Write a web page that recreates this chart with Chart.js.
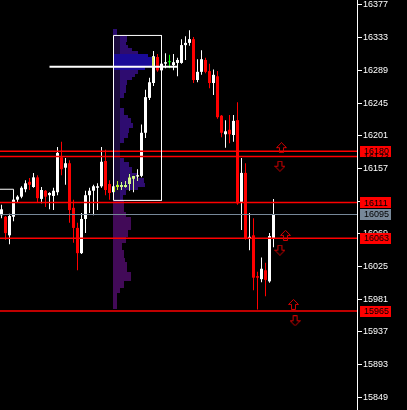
<!DOCTYPE html>
<html>
<head>
<meta charset="utf-8">
<script src="https://cdn.jsdelivr.net/npm/chart.js@4.4.0/dist/chart.umd.min.js"></script>
<style>
html,body{margin:0;padding:0;background:#000;overflow:hidden}
canvas{display:block}
</style>
</head>
<body>
<canvas id="c" width="407" height="410"></canvas>
<script>
// Candles, oldest first
const opens = [
  16094,16092,16067,16092,16115,16119,16129,16139,16132,16145,
  16116,16127,16121,16120,16125,16172,16158,16164,16104,16077,
  16043,16089,16121,16127,16131,16133,16167,16136,16125,16132,
  16132,16132,16136,16143,16146,16147,16205,16252,16272,16307,
  16289,16298,16300,16296,16299,16299,16323,16326,16331,16276,
  16287,16303,16288,16272,16281,16228,16203,16209,16202,16222,
  16112,16151,16063,16067,16012,16008,16020,16005,16063
];
const highs = [
  16108,16093,16096,16129,16121,16133,16141,16144,16151,16148,
  16132,16128,16125,16131,16186,16193,16171,16168,16115,16084,
  16097,16127,16131,16135,16137,16186,16182,16141,16141,16140,
  16139,16140,16150,16147,16156,16216,16263,16279,16315,16311,
  16300,16312,16310,16311,16306,16331,16335,16343,16334,16304,
  16316,16306,16298,16290,16288,16229,16222,16229,16229,16246,
  16171,16164,16097,16090,16018,16037,16030,16070,16116
];
const lows = [
  16090,16061,16055,16086,16112,16117,16125,16128,16131,16112,
  16110,16105,16102,16101,16121,16148,16135,16084,16057,16020,
  16042,16070,16097,16094,16101,16131,16121,16115,16115,16128,
  16128,16131,16127,16125,16140,16145,16198,16249,16268,16287,
  16287,16292,16292,16289,16281,16298,16303,16322,16272,16273,
  16283,16285,16265,16256,16224,16199,16185,16191,16193,16108,
  16074,16061,16047,15993,15967,16004,15985,16003,16051
];
const closes = [
  16102,16070,16093,16115,16119,16131,16137,16135,16145,16117,
  16128,16119,16124,16127,16178,16156,16164,16101,16077,16043,
  16089,16121,16127,16133,16133,16166,16128,16124,16133,16135,
  16135,16135,16145,16147,16148,16205,16253,16273,16308,16289,
  16298,16300,16300,16300,16303,16323,16326,16331,16276,16287,
  16304,16287,16272,16283,16226,16205,16207,16203,16221,16110,
  16151,16063,16065,16010,16010,16022,16007,16066,16095
];

// Price axis
const tickValues = [16377,16333,16289,16245,16201,16157,16113,16069,16025,15981,15937,15893,15849];
const priceMin = 15831.9;
const priceMax = 16383.7;

// Support / resistance levels
const levelPrices = [16180,16173,16111,16063,15965];
const lastPrice = closes[closes.length - 1];

// Session box (candle index range and price range) with its volume profile
const boxFrom = 28, boxTo = 40;
const boxHigh = 16336, boxLow = 16114;
const pocPrice = 16294, pocFrom = 12, pocTo = 44;
const prevPocPrice = 16129, prevPocFrom = -1, prevPocTo = 3;
const profileEdges = [16345,16337,16327,16323,16319,16315,16311,16307,16295,16290,16284,16280,16276,16269,16259,16252,16238,16229,16225,16218,16211,16205,16198,16191,16171,16166,16159,16151,16144,16137,16132,16128,16121,16113,16098,16092,16074,16065,16057,16047,16037,16031,16018,16006,15996,15989,15968];
const profileVolumes = [40,160,150,170,220,280,400,470,370,280,250,220,160,150,120,80,120,170,210,230,180,170,120,80,130,180,220,270,350,360,290,150,110,120,150,200,170,150,100,120,140,160,200,120,80,40];

// Breakout arrows
const arrowUpX = [70, 71, 73];
const arrowUpY = [16185, 16067, 15974];
const arrowDownX = [69.6, 69.6, 73.4];
const arrowDownY = [16160, 16047, 15952];

const FONT = '9px "Liberation Sans", Arial, sans-serif';
const X_MIN = -0.375, X_MAX = 88.875;

function candleColor(i) {
  if (closes[i] > opens[i]) return '#ffffff';
  if (closes[i] < opens[i]) return '#ff0000';
  return '#00ff00';
}
const candleColors = opens.map((o, i) => candleColor(i));

function arrowImage(up) {
  const cv = document.createElement('canvas');
  cv.width = 11; cv.height = 11;
  const g = cv.getContext('2d');
  g.strokeStyle = '#d00000';
  g.lineWidth = 1;
  const pts = [[5.5,0.5],[10.5,5.5],[7.5,5.5],[7.5,10.5],[3.5,10.5],[3.5,5.5],[0.5,5.5]];
  g.beginPath();
  pts.forEach(([x, y], i) => {
    const yy = up ? y : 11 - y;
    if (i) g.lineTo(x, yy); else g.moveTo(x, yy);
  });
  g.closePath();
  g.stroke();
  return cv;
}

function hLine(price, from, to, color, width, order) {
  return {
    type: 'line',
    data: [{x: from, y: price}, {x: to, y: price}],
    borderColor: color, borderWidth: width,
    pointRadius: 0, tension: 0, fill: false, order
  };
}

const datasets = [];
datasets.push({
  type: 'bar', label: 'wicks',
  data: opens.map((o, i) => ({x: i, y: [lows[i], highs[i]]})),
  backgroundColor: candleColors, barThickness: 1, grouped: false,
  inflateAmount: 0, borderWidth: 0, order: 20
});
const BODY_INDEX = datasets.length;
datasets.push({
  type: 'bar', label: 'bodies',
  data: opens.map((o, i) => ({x: i, y: [o, closes[i]]})),
  backgroundColor: candleColors, barThickness: 3, grouped: false,
  inflateAmount: 0, borderWidth: 0, minBarLength: 1, order: 19
});
levelPrices.forEach(p => datasets.push(hLine(p, X_MIN - 1, X_MAX + 1, '#ff0000', 1.5, 5)));
datasets.push(hLine(lastPrice, X_MIN - 1, X_MAX + 1, '#778899', 1.2, 5));
datasets.push({
  type: 'line',
  data: [{x: boxFrom, y: boxHigh}, {x: boxTo, y: boxHigh}, {x: boxTo, y: boxLow}, {x: boxFrom, y: boxLow}, {x: boxFrom, y: boxHigh}],
  borderColor: '#ffffff', borderWidth: 1, pointRadius: 0, tension: 0, fill: false, order: 4
});
datasets.push(hLine(pocPrice, pocFrom, pocTo, '#ffffff', 2, 3));
datasets.push(hLine(prevPocPrice, prevPocFrom, prevPocTo, '#ffffff', 1, 3));
datasets.push({
  type: 'line', showLine: false,
  data: arrowUpX.map((x, i) => ({x, y: arrowUpY[i]})),
  pointStyle: arrowImage(true), pointRadius: 6, order: 1
});
datasets.push({
  type: 'line', showLine: false,
  data: arrowDownX.map((x, i) => ({x, y: arrowDownY[i]})),
  pointStyle: arrowImage(false), pointRadius: 6, order: 1
});

const background = {
  id: 'background',
  beforeDraw(chart) {
    const ctx = chart.ctx;
    ctx.save();
    ctx.fillStyle = '#000';
    ctx.fillRect(0, 0, chart.width, chart.height);
    ctx.restore();
  }
};

// Volume profile, blended over the candles
const profile = {
  id: 'profile',
  afterDatasetDraw(chart, args) {
    if (args.index !== BODY_INDEX) return;
    const {ctx, chartArea: a, scales} = chart;
    const xs = scales.x, ys = scales.y, vs = scales.xv;
    const x0 = Math.round(xs.getPixelForValue(boxFrom) - 0.5);
    const maxVol = Math.max(...profileVolumes);
    ctx.save();
    ctx.beginPath();
    ctx.rect(a.left, a.top, a.right - a.left, a.bottom - a.top);
    ctx.clip();
    ctx.globalCompositeOperation = 'difference';
    for (let i = 0; i < profileVolumes.length; i++) {
      const top = Math.round(ys.getPixelForValue(profileEdges[i]));
      const bot = Math.round(ys.getPixelForValue(profileEdges[i + 1]));
      const w = Math.round(vs.getPixelForValue(profileVolumes[i]) - vs.getPixelForValue(0));
      const mid = (profileEdges[i] + profileEdges[i + 1]) / 2;
      const inBox = mid <= boxHigh && mid >= boxLow;
      let color;
      if (mid < boxLow) color = '#420a58';
      else if (!inBox) color = '#2a0c70';
      else if (profileVolumes[i] >= 0.78 * maxVol) color = '#1a0a98';
      else color = '#2e0c70';
      ctx.fillStyle = color;
      ctx.fillRect(x0, top, w, bot - top);
      if (inBox && color !== '#1a0a98') {
        ctx.fillStyle = '#1200ae';
        ctx.fillRect(x0, top, Math.min(w, 7), bot - top);
      }
    }
    ctx.restore();
  }
};

// Price tags on the axis
const priceTags = {
  id: 'priceTags',
  afterDraw(chart) {
    const ctx = chart.ctx;
    const ys = chart.scales.y;
    const left = chart.chartArea.right + 3;
    const items = levelPrices.map(p => ({p, bg: '#ff0000'}))
      .concat([{p: lastPrice, bg: '#778899'}])
      .sort((a, b) => b.p - a.p);
    const shown = [], hidden = [];
    let prev = null;
    items.forEach(it => {
      const y = ys.getPixelForValue(it.p);
      const box = {x: left, y: Math.round(y - 5.5), w: 31, h: 11, cy: y, it};
      if (prev && box.y < prev.y + prev.h) hidden.push({box, cover: prev});
      else { shown.push(box); prev = box; }
    });
    ctx.save();
    ctx.font = FONT;
    ctx.textBaseline = 'middle';
    ctx.textAlign = 'left';
    shown.forEach(b => { ctx.fillStyle = b.it.bg; ctx.fillRect(b.x, b.y, b.w, b.h); });
    hidden.forEach(({box, cover}) => {
      ctx.save();
      ctx.beginPath();
      ctx.rect(cover.x, cover.y, cover.w, cover.h);
      ctx.clip();
      ctx.fillStyle = '#000';
      ctx.fillText(String(box.it.p), box.x + 4, box.cy + 0.5);
      ctx.restore();
    });
    shown.forEach(b => { ctx.fillStyle = '#000'; ctx.fillText(String(b.it.p), b.x + 4, b.cy + 0.5); });
    ctx.restore();
  }
};

new Chart(document.getElementById('c'), {
  type: 'bar',
  data: {datasets},
  plugins: [background, profile, priceTags],
  options: {
    responsive: false,
    animation: false,
    devicePixelRatio: 1,
    events: [],
    layout: {padding: 0, autoPadding: false},
    plugins: {legend: {display: false}, tooltip: {enabled: false}},
    scales: {
      x: {type: 'linear', min: X_MIN, max: X_MAX, offset: false, display: false},
      xv: {type: 'linear', axis: 'x', min: 0, max: 3570, display: false},
      y: {
        type: 'linear', position: 'right', min: priceMin, max: priceMax,
        afterBuildTicks(scale) { scale.ticks = tickValues.map(v => ({value: v})); },
        afterFit(scale) { scale.width = 50; scale.paddingTop = 0; scale.paddingBottom = 0; },
        grid: {display: true, drawOnChartArea: false, drawTicks: true, tickLength: 5, color: '#ffffff', tickColor: '#ffffff'},
        border: {display: true, color: '#ffffff', width: 1},
        ticks: {color: '#ffffff', font: {family: '"Liberation Sans", Arial, sans-serif', size: 9}, padding: 1, autoSkip: false, callback: v => String(v)}
      }
    }
  }
});
</script>
</body>
</html>
